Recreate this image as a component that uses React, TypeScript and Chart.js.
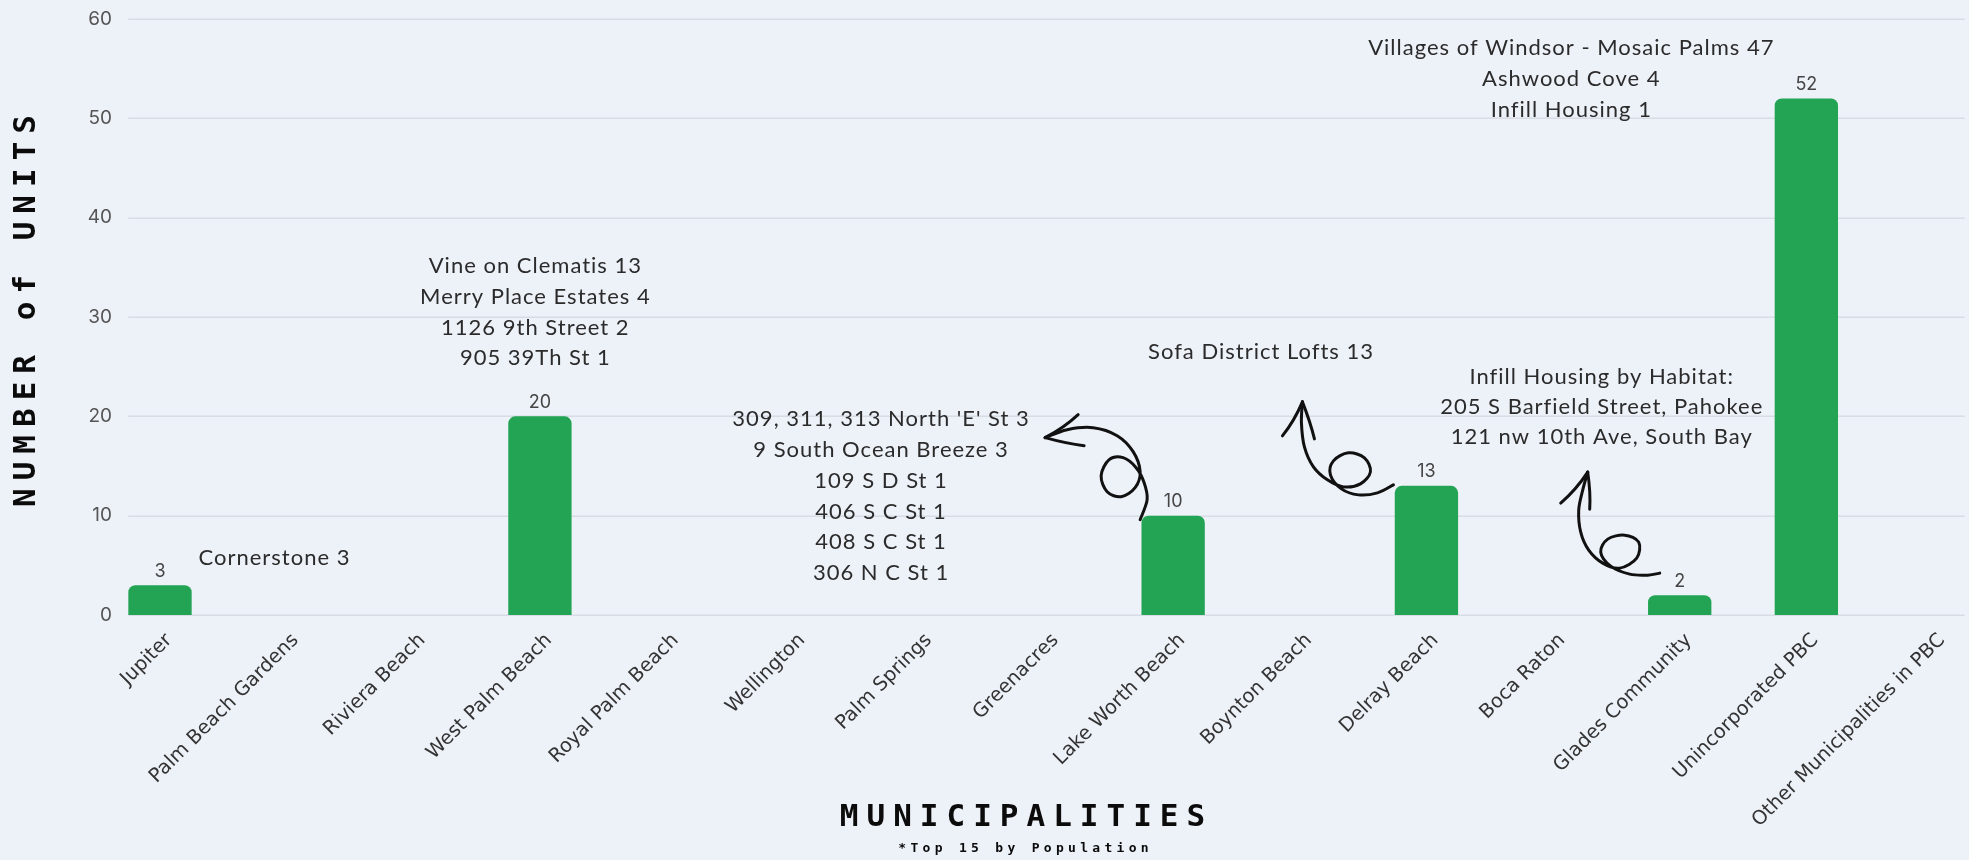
import React, { useEffect, useRef } from "react";
import { Chart, registerables } from "chart.js";

Chart.register(...registerables);

// ---------- data ----------
const categories = [
  "Jupiter",
  "Palm Beach Gardens",
  "Riviera Beach",
  "West Palm Beach",
  "Royal Palm Beach",
  "Wellington",
  "Palm Springs",
  "Greenacres",
  "Lake Worth Beach",
  "Boynton Beach",
  "Delray Beach",
  "Boca Raton",
  "Glades Community",
  "Unincorporated PBC",
  "Other Municipalities in PBC",
];
const units = [3, 0, 0, 20, 0, 0, 0, 0, 10, 0, 13, 0, 2, 52, 0];
const yTickValues = [0, 10, 20, 30, 40, 50, 60];

const yTitle = "NUMBER of UNITS";
const xTitle = "MUNICIPALITIES";
const xSubtitle = "*Top 15 by Population";

const noteJupiter = ["Cornerstone 3"];
const noteWestPalm = ["Vine on Clematis 13", "Merry Place Estates 4", "1126 9th Street 2", "905 39Th St 1"];
const noteLakeWorth = [
  "309, 311, 313 North 'E' St 3",
  "9 South Ocean Breeze 3",
  "109 S D St 1",
  "406 S C St 1",
  "408 S C St 1",
  "306 N C St 1",
];
const noteDelray = ["Sofa District Lofts 13"];
const noteGlades = ["Infill Housing by Habitat:", "205 S Barfield Street, Pahokee", "121 nw 10th Ave, South Bay"];
const noteUnincorporated = ["Villages of Windsor - Mosaic Palms 47", "Ashwood Cove 4", "Infill Housing 1"];

// ---------- styling / layout ----------
const BG = "#EDF1F8";
const BAR = "#22A454";
const GRID = "#D7DCE5";
const NOTE_FONT = '22px "Lato"';
const NOTE_COLOR = "#2B2B2B";

// annotation blocks: anchor in scale space (category index, value of first line)
const notes = [
  { lines: noteJupiter, idx: 0.9, val: 5.74, gap: 31 },
  { lines: noteWestPalm, idx: 2.96, val: 35.13, gap: 30.7 },
  { lines: noteLakeWorth, idx: 5.69, val: 19.73, gap: 30.8 },
  { lines: noteDelray, idx: 8.69, val: 26.48, gap: 31 },
  { lines: noteGlades, idx: 11.38, val: 23.96, gap: 30 },
  { lines: noteUnincorporated, idx: 11.14, val: 57.08, gap: 31 },
];

// hand-drawn arrows: anchored on a bar top (index), offsets in px
const arrows = [
  {
    bar: 8,
    shaft: [
      [-128, -78], [-106, -86], [-80, -88], [-56, -80], [-40, -64], [-33, -44], [-38, -28],
      [-52, -19], [-66, -24], [-72, -40], [-64, -56], [-50, -58], [-37, -48], [-29, -33],
      [-26, -16], [-33, 4],
    ],
    head: [[-95, -101], [-89, -70]],
  },
  {
    bar: 10,
    shaft: [
      [-124, -84], [-125, -63], [-122, -39], [-113, -19], [-99, -6], [-83, 1], [-66, -2],
      [-56, -14], [-62, -28], [-78, -33], [-93, -25], [-96, -11], [-85, 3], [-68, 9],
      [-49, 7], [-33, -1],
    ],
    head: [[-144, -50], [-112, -47]],
  },
  {
    bar: 12,
    shaft: [
      [-92, -123], [-97, -105], [-101, -85], [-99, -63], [-91, -45], [-77, -32], [-60, -27],
      [-43, -37], [-41, -53], [-55, -60], [-72, -56], [-79, -43], [-69, -29], [-50, -21],
      [-32, -20], [-20, -22],
    ],
    head: [[-119, -92], [-90, -86]],
  },
];

function smoothPath(ctx: CanvasRenderingContext2D, pts: number[][]) {
  ctx.moveTo(pts[0][0], pts[0][1]);
  for (let i = 0; i < pts.length - 1; i++) {
    const p0 = pts[i - 1] || pts[i];
    const p1 = pts[i];
    const p2 = pts[i + 1];
    const p3 = pts[i + 2] || p2;
    ctx.bezierCurveTo(
      p1[0] + (p2[0] - p0[0]) / 6,
      p1[1] + (p2[1] - p0[1]) / 6,
      p2[0] - (p3[0] - p1[0]) / 6,
      p2[1] - (p3[1] - p1[1]) / 6,
      p2[0],
      p2[1]
    );
  }
}

function spacedText(
  ctx: CanvasRenderingContext2D,
  text: string,
  x: number,
  y: number,
  font: string,
  spacing: number,
  color: string
) {
  ctx.save();
  ctx.font = font;
  (ctx as any).letterSpacing = spacing + "px";
  ctx.fillStyle = color;
  ctx.textAlign = "center";
  ctx.textBaseline = "middle";
  ctx.fillText(text, x + spacing / 2, y);
  ctx.restore();
}

const decorPlugin = {
  id: "decor",
  beforeDraw(chart: any) {
    const { ctx, width, height } = chart;
    ctx.save();
    ctx.fillStyle = BG;
    ctx.fillRect(0, 0, width, height);
    ctx.restore();
  },
  beforeDatasetsDraw(chart: any) {
    const { ctx, chartArea, scales } = chart;
    const y = scales.y;
    const half = (scales.x.getPixelForValue(1) - scales.x.getPixelForValue(0)) / 4;
    ctx.save();
    ctx.strokeStyle = GRID;
    ctx.lineWidth = 1.5;
    yTickValues.forEach((v) => {
      const py = Math.round(y.getPixelForValue(v)) + 0.25;
      ctx.beginPath();
      ctx.moveTo(chartArea.left - half, py);
      ctx.lineTo(chartArea.right + half, py);
      ctx.stroke();
    });
    ctx.restore();
  },
  afterDatasetsDraw(chart: any) {
    const { ctx, scales } = chart;
    const meta = chart.getDatasetMeta(0);
    // value labels
    ctx.save();
    ctx.font = '18px "Inter"';
    ctx.fillStyle = "#454545";
    ctx.textAlign = "center";
    ctx.textBaseline = "middle";
    meta.data.forEach((el: any, i: number) => {
      if (units[i] > 0) ctx.fillText(String(units[i]), el.x, el.y - 14);
    });
    ctx.restore();

    // annotation texts
    ctx.save();
    ctx.font = NOTE_FONT;
    (ctx as any).letterSpacing = "1px";
    ctx.fillStyle = NOTE_COLOR;
    ctx.textAlign = "center";
    ctx.textBaseline = "middle";
    notes.forEach((n) => {
      const x0 = scales.x.getPixelForValue(0);
      const step = scales.x.getPixelForValue(1) - x0;
      const px = x0 + n.idx * step;
      const py = scales.y.getPixelForValue(n.val);
      n.lines.forEach((t, k) => ctx.fillText(t, px + 0.5, py + k * n.gap));
    });
    ctx.restore();

    // arrows
    ctx.save();
    ctx.strokeStyle = "#111111";
    ctx.lineWidth = 3;
    ctx.lineCap = "round";
    ctx.lineJoin = "round";
    arrows.forEach((a) => {
      const ax = scales.x.getPixelForValue(a.bar);
      const ay = scales.y.getPixelForValue(units[a.bar]);
      const pts = a.shaft.map((p) => [ax + p[0], ay + p[1]]);
      ctx.beginPath();
      smoothPath(ctx, pts);
      ctx.stroke();
      const tip = pts[0];
      a.head.forEach((h) => {
        ctx.beginPath();
        ctx.moveTo(tip[0], tip[1]);
        ctx.quadraticCurveTo(
          (tip[0] + ax + h[0]) / 2 + 2,
          (tip[1] + ay + h[1]) / 2 + 2,
          ax + h[0],
          ay + h[1]
        );
        ctx.stroke();
      });
    });
    ctx.restore();

    // axis titles
    const cx = (chart.chartArea.left + chart.chartArea.right) / 2;
    spacedText(ctx, xTitle, cx - 24, 818, 'bold 31px "DejaVu Sans Mono"', 8, "#0B0B0B");
    spacedText(ctx, xSubtitle, cx - 23, 849, 'bold 13px "DejaVu Sans Mono"', 4.3, "#0B0B0B");
    ctx.save();
    ctx.translate(27, (chart.chartArea.top + chart.chartArea.bottom) / 2 - 6);
    ctx.rotate(-Math.PI / 2);
    spacedText(ctx, yTitle, 0, 0, 'bold 31px "DejaVu Sans Mono"', 8, "#0B0B0B");
    ctx.restore();
  },
};

export default function App() {
  const ref = useRef<HTMLCanvasElement | null>(null);

  useEffect(() => {
    document.body.style.margin = "0";
    document.body.style.background = BG;
    const canvas = ref.current;
    if (!canvas) return;
    const chart = new Chart(canvas, {
      type: "bar",
      data: {
        labels: categories,
        datasets: [
          {
            label: "Units",
            data: units,
            backgroundColor: BAR,
            borderRadius: 7,
            borderSkipped: "start",
            categoryPercentage: 1,
            barPercentage: 0.5,
            clip: false as any,
          },
        ],
      },
      options: {
        animation: false,
        responsive: false,
        devicePixelRatio: 1,
        layout: { padding: { left: 0, right: 36, top: 19, bottom: 0 } },
        plugins: {
          legend: { display: false },
          tooltip: { enabled: false },
          title: { display: false },
        },
        scales: {
          x: {
            offset: false,
            grid: { display: false, drawTicks: false },
            border: { display: false },
            ticks: {
              autoSkip: false,
              maxRotation: 45,
              minRotation: 45,
              padding: 14,
              labelOffset: 9,
              color: "#333333",
              font: { family: "DejaVu Sans", size: 19.5 },
            },
            afterFit: (s: any) => {
              s.height = 245;
            },
          },
          y: {
            min: 0,
            max: 60,
            grid: { display: false, drawTicks: false },
            border: { display: false },
            ticks: {
              stepSize: 10,
              padding: 48,
              color: "#555555",
              font: { family: "Inter", size: 19 },
            },
            afterFit: (s: any) => {
              s.width = 160;
              s.paddingTop = 0;
              s.paddingBottom = 0;
            },
          },
        },
      },
      plugins: [decorPlugin],
    });
    return () => chart.destroy();
  }, []);

  return (
    <div style={{ position: "fixed", left: 0, top: 0, width: 1969, height: 860, background: BG }}>
      <canvas ref={ref} width={1969} height={860} style={{ display: "block" }} />
    </div>
  );
}
